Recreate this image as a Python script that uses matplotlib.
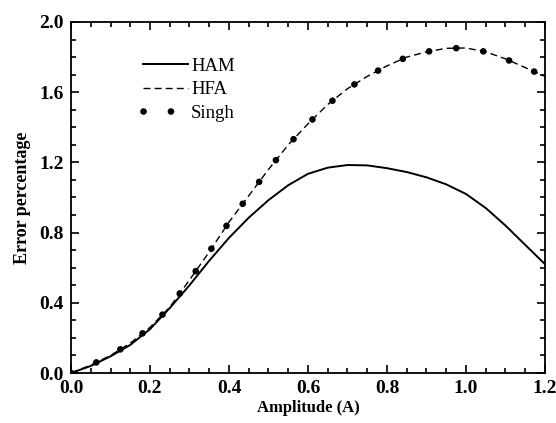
import matplotlib
matplotlib.use('Agg')
import matplotlib.pyplot as plt
from matplotlib.ticker import MultipleLocator

plt.rcParams['font.family'] = ['Liberation Serif', 'DejaVu Serif']

# amplitude grid
amp = [0.0, 0.05, 0.1, 0.15, 0.2, 0.25, 0.3, 0.35, 0.4, 0.45, 0.5, 0.55,
       0.6, 0.65, 0.7, 0.75, 0.8, 0.85, 0.9, 0.95, 1.0, 1.05, 1.1, 1.15, 1.2]

# error percentage for each method
ham = [0.0, 0.04, 0.095, 0.16, 0.25, 0.37, 0.50, 0.64, 0.77, 0.885, 0.985, 1.07,
       1.135, 1.17, 1.185, 1.183, 1.167, 1.145, 1.115, 1.075, 1.02, 0.94, 0.84, 0.73, 0.62]
hfa = [0.0, 0.045, 0.10, 0.17, 0.26, 0.375, 0.53, 0.69, 0.86, 1.01, 1.16, 1.30,
       1.42, 1.53, 1.62, 1.69, 1.75, 1.80, 1.83, 1.85, 1.852, 1.83, 1.79, 1.74, 1.69]
singh = [0.0, 0.045, 0.10, 0.17, 0.26, 0.375, 0.53, 0.69, 0.86, 1.01, 1.16, 1.30,
         1.42, 1.53, 1.62, 1.69, 1.75, 1.80, 1.83, 1.85, 1.852, 1.83, 1.79, 1.74, 1.69]

fig = plt.figure(figsize=(5.56, 4.23), dpi=100)
ax = fig.add_axes([0.1277, 0.1182, 0.8525, 0.8298])

ax.plot(amp, ham, color='black', lw=1.4, label='HAM')
ax.plot(amp, hfa, color='black', lw=1.0, linestyle=(0, (5, 3)), label='HFA')
ax.plot(amp, singh, color='black', lw=4.8, linestyle=(0, (0.01, 4.1)),
        dash_capstyle='round', label='Singh')

ax.set_xlim(0, 1.2)
ax.set_ylim(0, 2.0)
ax.xaxis.set_major_locator(MultipleLocator(0.2))
ax.xaxis.set_minor_locator(MultipleLocator(0.05))
ax.yaxis.set_major_locator(MultipleLocator(0.4))
ax.yaxis.set_minor_locator(MultipleLocator(0.1))
ax.tick_params(which='both', direction='in', top=True, right=True, width=1.2)
ax.tick_params(which='major', length=6, labelsize=14, pad=5)
ax.tick_params(which='minor', length=3.5)
for lab in ax.get_xticklabels() + ax.get_yticklabels():
    lab.set_fontweight('bold')
for sp in ax.spines.values():
    sp.set_linewidth(1.3)

ax.set_xlabel('Amplitude (A)', fontsize=12, fontweight='bold', labelpad=2)
ax.set_ylabel('Error percentage', fontsize=13, fontweight='bold', labelpad=6)

ax.legend(loc='upper left', bbox_to_anchor=(0.117, 0.946), frameon=False,
          fontsize=13.5, handlelength=2.4, handletextpad=0.15, labelspacing=0.33)

fig.savefig('out.png', dpi=100)
